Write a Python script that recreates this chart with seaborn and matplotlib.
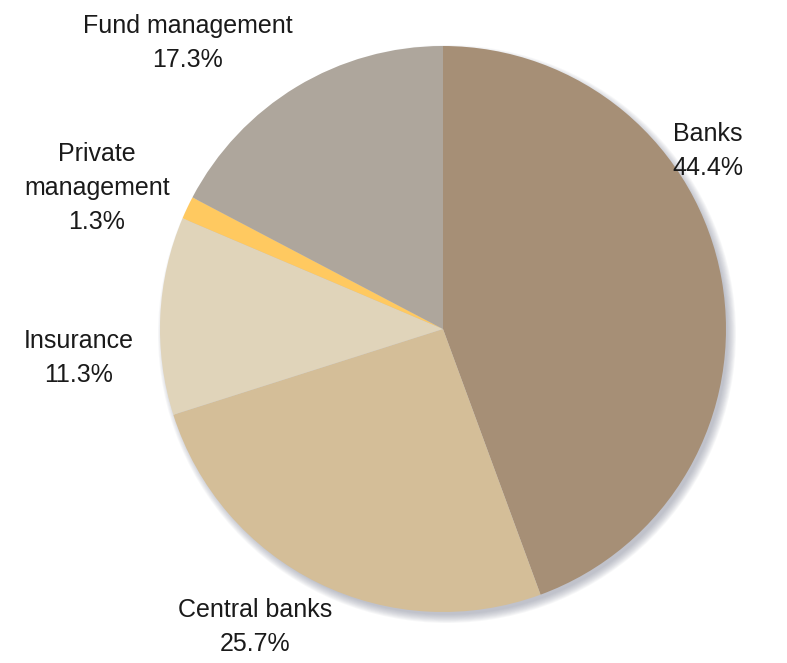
import matplotlib
matplotlib.use("Agg")
import matplotlib.pyplot as plt
from matplotlib import font_manager
from matplotlib.patches import Ellipse
import seaborn as sns

# Shares of holdings by institution type (%)
categories = ["Banks", "Central banks", "Insurance", "Private\nmanagement", "Fund management"]
shares = [44.4, 25.7, 11.3, 1.3, 17.3]
slice_colors = ["#A68F76", "#D4BE98", "#E0D4BA", "#FFC960", "#AEA69C"]

sns.set_theme(style="white")
plt.rcParams["font.family"] = ["Liberation Sans", "DejaVu Sans"]

# prefer a narrow sans face when one is installed
label_font = dict(family=["Liberation Sans", "DejaVu Sans"], size=18)
spacing = 1.53
for entry in font_manager.fontManager.ttflist:
    if entry.name in ("Liberation Sans Narrow", "Arial Narrow") and entry.style == "normal" \
            and entry.weight in (400, "normal", "regular"):
        label_font = dict(fname=entry.fname, size=20.5)
        spacing = 1.35
        break

W, H = 787, 663
fig = plt.figure(figsize=(W / 100, H / 100), dpi=100)
ax = fig.add_axes([0, 0, 1, 1])

cx, cy, r = 443, H - 329, 283

# soft drop shadow below the pie
for i in range(10):
    ax.add_patch(Ellipse((cx + 4, cy - 5), 2 * (r + 6 - i * 0.9), 2 * (r + 6 - i * 0.9),
                         facecolor="#7E8294", edgecolor="none", alpha=0.06, zorder=0))

palette = sns.color_palette(slice_colors)
ax.pie(shares, colors=palette, startangle=90, counterclock=False,
       center=(cx, cy), radius=r, frame=True,
       wedgeprops=dict(linewidth=0, antialiased=True))
ax.set_xlim(0, W)
ax.set_ylim(0, H)
ax.set_aspect("equal")
ax.axis("off")

# label anchor points (centre of each text block)
label_pos = [(708, H - 151), (255, H - 627), (79, H - 358), (97, H - 188), (188, H - 43)]
props = font_manager.FontProperties(**label_font)
for name, val, (x, y) in zip(categories, shares, label_pos):
    ax.text(x, y, f"{name}\n{val:.1f}%", ha="center", va="center",
            fontproperties=props, color="#1a1a1a", linespacing=spacing)

fig.savefig("out.png", dpi=100, facecolor="white")
